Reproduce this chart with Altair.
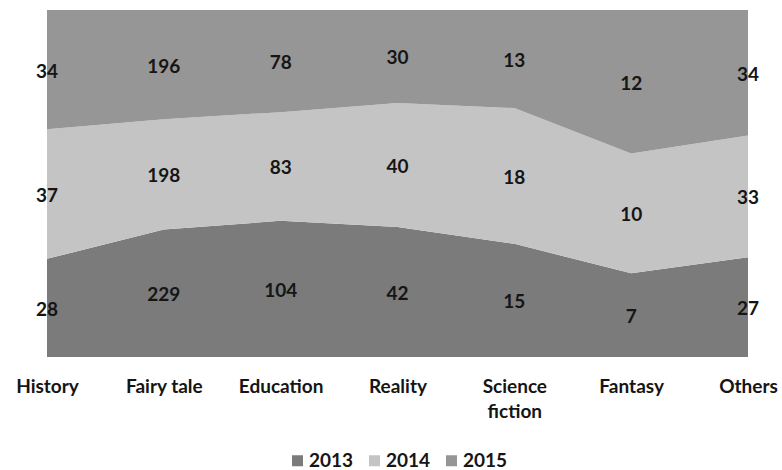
import altair as alt
import pandas as pd

categories = ["History", "Fairy tale", "Education", "Reality", "Science fiction", "Fantasy", "Others"]
years = ["2013", "2014", "2015"]
v2013 = [28, 229, 104, 42, 15, 7, 27]
v2014 = [37, 198, 83, 40, 18, 10, 33]
v2015 = [34, 196, 78, 30, 13, 12, 34]
colors = ["#7b7b7b", "#c4c4c4", "#969696"]

rows = []
for yi, (year, vals) in enumerate(zip(years, [v2013, v2014, v2015])):
    for cat, v in zip(categories, vals):
        rows.append({"category": cat, "year": year, "idx": yi, "value": v})
df = pd.DataFrame(rows)

FONT = "Lato"
FS = 19
INK = "#151515"

base = alt.Chart(df).transform_stack(
    stack="value",
    groupby=["category"],
    as_=["v0", "v1"],
    offset="normalize",
    sort=[alt.SortField("idx", order="ascending")],
).transform_calculate(mid="(datum.v0 + datum.v1) / 2")

x_enc = alt.X(
    "category:N",
    sort=categories,
    scale=alt.Scale(type="point", padding=0),
    axis=alt.Axis(
        title=None,
        domain=False,
        ticks=False,
        grid=False,
        labelAngle=0,
        labelFont=FONT,
        labelFontWeight="bold",
        labelFontSize=FS,
        labelColor=INK,
        labelPadding=20,
        labelBaseline="top",
        labelLineHeight=25,
        labelLimit=200,
        labelExpr="datum.label == 'Science fiction' ? ['Science', 'fiction'] : datum.label",
    ),
)

areas = base.mark_area(interpolate="linear").encode(
    x=x_enc,
    y=alt.Y("v1:Q", scale=alt.Scale(domain=[0, 1]), axis=None),
    y2="v0:Q",
    color=alt.Color(
        "year:N",
        scale=alt.Scale(domain=years, range=colors),
        legend=alt.Legend(
            title=None,
            orient="none",
            direction="horizontal",
            legendX=241,
            legendY=441,
            symbolType="square",
            symbolSize=121,
            symbolStrokeWidth=0,
            labelFont=FONT,
            labelFontWeight="bold",
            labelFontSize=FS,
            labelColor=INK,
            labelOffset=2,
            columnPadding=11,
        ),
    ),
    order=alt.Order("idx:Q", sort="ascending"),
)

labels = base.mark_text(
    font=FONT, fontWeight="bold", fontSize=FS, color=INK, baseline="middle", dy=2
).encode(
    x=alt.X("category:N", sort=categories, scale=alt.Scale(type="point", padding=0)),
    y=alt.Y("mid:Q", scale=alt.Scale(domain=[0, 1])),
    text=alt.Text("value:Q"),
)

chart = (
    alt.layer(areas, labels)
    .properties(
        width=701,
        height=347,
        autosize=alt.AutoSizeParams(type="none"),
        padding={"left": 47, "top": 10, "right": 34, "bottom": 113},
        background="white",
    )
    .configure_view(stroke=None)
)

chart.save("out.html", embed_options={"renderer": "svg", "actions": False})
